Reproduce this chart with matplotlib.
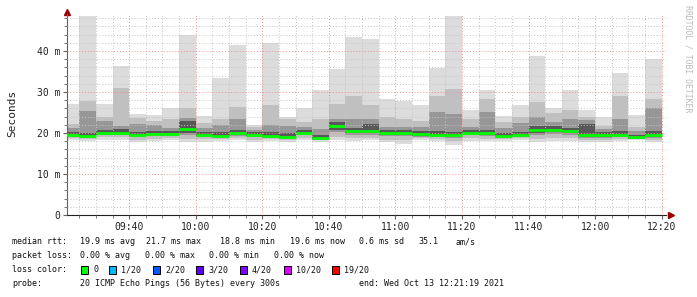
import numpy as np
import pandas as pd
import matplotlib
matplotlib.use("Agg")
import matplotlib.pyplot as plt
import matplotlib.dates as mdates
from matplotlib.patches import Rectangle
from matplotlib.ticker import FuncFormatter, MultipleLocator

# 5 minute steps, value = start of the step
starts = pd.date_range("2021-10-13 09:20", periods=36, freq="5min")

# rtt in ms
max_rtt = [27.0, 48.6, 27.0, 36.4, 24.6, 24.3, 26.1, 43.9, 24.2, 33.5, 41.5, 22.0,
           41.9, 24.0, 26.1, 30.5, 35.7, 43.5, 43.0, 28.4, 27.7, 26.9, 35.9, 48.6,
           25.6, 30.5, 24.2, 26.7, 38.8, 26.0, 30.5, 25.5, 23.9, 34.7, 24.5, 38.1]
hi2 = [22.2, 27.7, 24.0, 31.0, 23.6, 23.0, 23.3, 26.0, 22.4, 23.4, 26.3, 21.4,
       26.7, 23.4, 22.6, 23.4, 27.0, 29.1, 26.7, 24.0, 23.4, 22.8, 29.1, 30.7,
       23.4, 28.3, 22.6, 24.0, 27.5, 24.8, 25.5, 24.0, 21.8, 29.1, 21.5, 28.3]
hi3 = [21.2, 25.3, 22.8, 21.6, 22.2, 22.0, 21.3, 23.6, 21.2, 22.0, 23.4, 20.8,
       22.0, 21.7, 21.5, 21.0, 23.4, 23.4, 23.4, 21.5, 21.5, 21.5, 25.1, 24.7,
       21.5, 25.1, 21.2, 22.4, 24.0, 22.6, 23.4, 23.2, 21.0, 23.4, 20.5, 26.1]
hi4 = [20.2, 20.0, 20.8, 21.0, 20.3, 20.4, 20.5, 22.8, 20.2, 20.3, 20.6, 20.3,
       20.2, 19.9, 20.8, 19.5, 22.6, 21.2, 22.2, 20.6, 20.6, 20.4, 20.5, 20.3,
       20.8, 20.6, 20.0, 20.3, 21.8, 21.6, 21.1, 22.2, 20.2, 20.4, 19.6, 20.4]
median = [19.6, 19.2, 20.0, 20.1, 19.6, 19.8, 19.8, 21.0, 19.6, 19.3, 19.9, 19.6,
          19.3, 19.1, 20.1, 18.8, 21.7, 20.4, 20.4, 20.0, 20.0, 19.7, 19.6, 19.6,
          20.1, 19.9, 19.3, 19.6, 20.8, 20.7, 20.4, 19.4, 19.4, 19.6, 18.9, 19.5]
lo4 = [19.3, 18.9, 19.6, 19.7, 19.2, 19.4, 19.4, 20.1, 19.2, 18.9, 19.5, 19.2,
       18.9, 18.8, 19.7, 18.5, 20.8, 19.9, 19.9, 19.6, 19.6, 19.3, 19.2, 19.2,
       19.7, 19.5, 18.9, 19.2, 20.1, 20.2, 19.9, 18.9, 19.0, 19.2, 18.6, 19.0]
lo3 = [19.1, 18.8, 19.4, 19.5, 19.0, 19.2, 19.2, 19.6, 19.0, 18.8, 19.3, 19.0,
       18.8, 18.6, 19.5, 18.4, 20.2, 19.6, 19.6, 19.3, 19.2, 19.1, 19.0, 18.8,
       19.5, 19.2, 18.8, 19.0, 19.6, 19.8, 19.5, 18.8, 18.8, 19.0, 18.5, 18.8]
lo2 = [18.7, 18.6, 18.9, 18.9, 18.4, 18.6, 18.7, 18.5, 18.5, 18.5, 18.8, 18.4,
       18.6, 18.3, 18.8, 18.3, 19.0, 18.7, 18.8, 18.4, 18.2, 18.7, 18.6, 18.0,
       18.7, 18.6, 18.5, 18.8, 18.6, 18.7, 18.8, 18.4, 18.4, 18.6, 18.5, 18.4]
min_rtt = [18.2, 18.1, 18.3, 18.3, 17.8, 18.1, 18.2, 17.8, 17.9, 18.0, 18.2, 17.8,
           18.0, 17.8, 18.2, 17.8, 18.2, 18.0, 18.2, 17.8, 17.4, 18.2, 18.0, 17.1,
           18.0, 18.0, 18.0, 18.2, 17.8, 18.0, 18.0, 17.8, 17.8, 18.0, 18.2, 17.8]

loss_labels = ["0", "1/20", "2/20", "3/20", "4/20", "10/20", "19/20"]
loss_colors = ["#00ff00", "#00b8ff", "#0059ff", "#5e00ff", "#7e00ff", "#dd00ff", "#ff0000"]

W, H = 697, 297
mono = "DejaVu Sans Mono"

fig = plt.figure(figsize=(W / 100, H / 100), dpi=100)
ax = fig.add_axes([67 / W, (H - 215) / H, (666 - 67) / W, (215 - 14) / H])

x = mdates.date2num(starts.to_pydatetime())
step = 5 / 1440

bands = [(min_rtt, max_rtt, "#dcdcdc"),
         (lo2, hi2, "#c0c0c0"),
         (lo3, hi3, "#979797"),
         (lo4, hi4, "#585858")]
for lo, hi, col in bands:
    lo = np.array(lo)
    hi = np.array(hi)
    ax.bar(x, hi - lo, bottom=lo, width=step, align="edge", color=col,
           linewidth=0, zorder=1)

ax.hlines(median, x, x + step, colors="#00ff00", linewidth=2.0, zorder=4)

t0 = mdates.date2num(pd.Timestamp("2021-10-13 09:21:19").to_pydatetime())
t1 = mdates.date2num(pd.Timestamp("2021-10-13 12:21:19").to_pydatetime())
ax.set_xlim(t0, t1)
ax.set_ylim(0, 49)

ax.xaxis.set_major_locator(mdates.MinuteLocator(byminute=[0, 20, 40]))
ax.xaxis.set_minor_locator(mdates.MinuteLocator(byminute=range(0, 60, 5)))
ax.xaxis.set_major_formatter(mdates.DateFormatter("%H:%M"))
ax.yaxis.set_major_locator(MultipleLocator(10))
ax.yaxis.set_minor_locator(MultipleLocator(2))
ax.yaxis.set_major_formatter(FuncFormatter(lambda v, p: "0" if v == 0 else "%d m" % v))

ax.set_axisbelow(False)
ax.grid(which="minor", color="#c4c4c4", linestyle=(0, (1, 2)), linewidth=0.7)
ax.grid(which="major", color="#f09090", linestyle=(0, (1, 2)), linewidth=0.7)

for s in ["top", "right"]:
    ax.spines[s].set_visible(False)
ax.spines["left"].set_color("#606060")
ax.spines["bottom"].set_color("#202020")
ax.tick_params(which="both", direction="out", colors="#606060", labelcolor="#222222",
               labelsize=7, pad=2)
ax.tick_params(which="major", length=3)
ax.tick_params(which="minor", length=2)
for lab in ax.get_xticklabels() + ax.get_yticklabels():
    lab.set_family(mono)

# axis arrows
ax.plot([0], [1.01], marker="^", color="#990000", markersize=4,
        transform=ax.transAxes, clip_on=False)
ax.plot([1.008], [0], marker=">", color="#990000", markersize=4,
        transform=ax.transAxes, clip_on=False)

fig.text(12 / W, 1 - 113 / H, "Seconds", rotation=90, family=mono, fontsize=8,
         ha="center", va="center", color="#222222")
fig.text(688 / W, 1 - 5 / H, "RRDTOOL / TOBI OETIKER", rotation=270, family=mono,
         fontsize=5.9, ha="center", va="top", color="#bbbbbb")

fs = 6.0


def put(px, py, s):
    fig.text(px / W, 1 - py / H, s, family=mono, fontsize=fs, ha="left",
             va="center", color="#111111")


# legend / stats block
put(12, 242, "median rtt:")
put(80, 242, "19.9 ms avg")
put(146, 242, "21.7 ms max")
put(220, 242, "18.8 ms min")
put(290, 242, "19.6 ms now")
put(359, 242, "0.6 ms sd")
put(418, 242, "35.1")
put(455, 242, "am/s")

put(12, 256, "packet loss:")
put(80, 256, "0.00 % avg")
put(145, 256, "0.00 % max")
put(209, 256, "0.00 % min")
put(274, 256, "0.00 % now")

put(12, 270, "loss color:")
box_x = [81, 109, 153, 196, 240, 284, 332]
for bx, lab, col in zip(box_x, loss_labels, loss_colors):
    fig.patches.append(Rectangle((bx / W, 1 - 274 / H), 7 / W, 8 / H,
                                 facecolor=col, edgecolor="black", linewidth=0.7,
                                 transform=fig.transFigure, figure=fig))
    put(bx + 12, 270, lab)

put(12, 284, "probe:")
put(80, 284, "20 ICMP Echo Pings (56 Bytes) every 300s")
put(359, 284, "end: Wed Oct 13 12:21:19 2021")

fig.savefig("out.png", dpi=100)
